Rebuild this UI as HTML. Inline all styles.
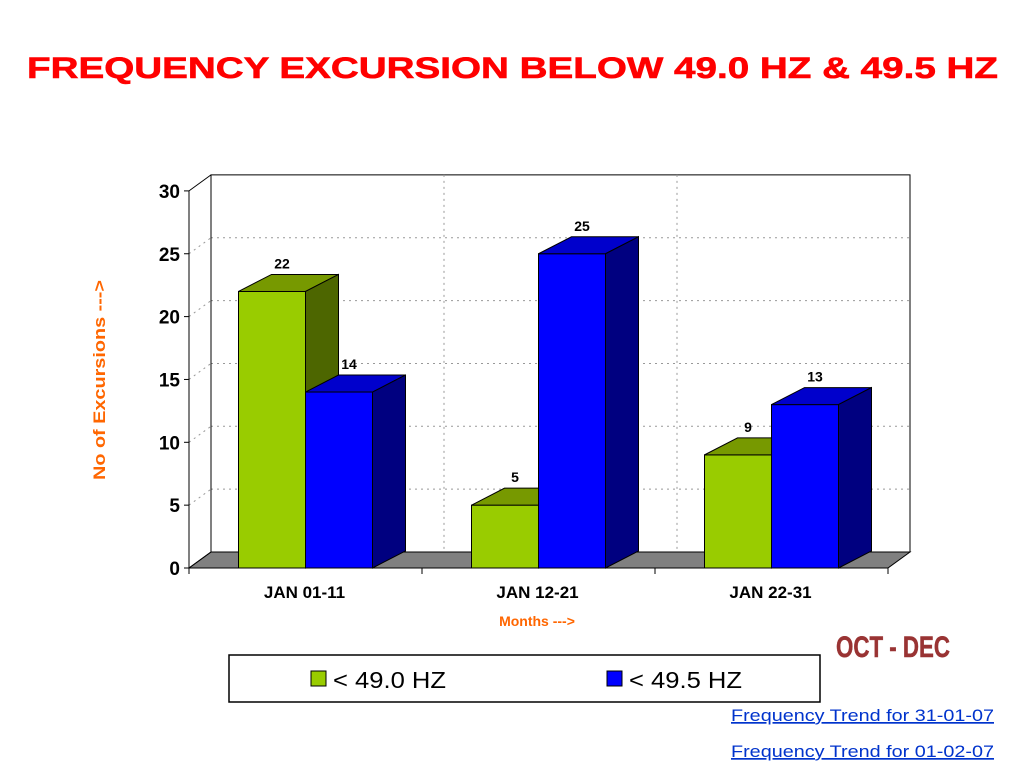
<!DOCTYPE html>
<html><head><meta charset="utf-8"><style>
body{margin:0;background:#fff;width:1024px;height:768px;overflow:hidden;font-family:"Liberation Sans",sans-serif;}
</style></head><body>
<svg width="1024" height="768" viewBox="0 0 1024 768" font-family="Liberation Sans, sans-serif">
<text x="27" y="78" textLength="971" lengthAdjust="spacingAndGlyphs" font-size="30" font-weight="bold" fill="#ff0000" stroke="#ff0000" stroke-width="0.6">FREQUENCY EXCURSION BELOW 49.0 HZ &amp; 49.5 HZ</text>
<g id="plot"></g>
<text transform="translate(105,380) rotate(-90)" text-anchor="middle" font-size="17" font-weight="bold" fill="#ff6600" textLength="200" lengthAdjust="spacingAndGlyphs">No of Excursions ---&gt;</text>
<text x="537" y="626" text-anchor="middle" font-size="14" font-weight="bold" fill="#ff6600">Months  ---&gt;</text>
<text x="836" y="657" textLength="114" lengthAdjust="spacingAndGlyphs" font-size="30" font-weight="bold" fill="#993333" stroke="#993333" stroke-width="0.5">OCT - DEC</text>
<g>
<rect x="229" y="655" width="591" height="47" fill="#fff" stroke="#000" stroke-width="1.5"/>
<rect x="311" y="671" width="15" height="15" fill="#99cc00" stroke="#000"/>
<text x="333" y="688" font-size="23" textLength="113" lengthAdjust="spacingAndGlyphs">&lt; 49.0 HZ</text>
<rect x="607" y="671" width="15" height="15" fill="#0000ff" stroke="#000"/>
<text x="629" y="688" font-size="23" textLength="113" lengthAdjust="spacingAndGlyphs">&lt; 49.5 HZ</text>
</g>
<a><text x="731" y="721" textLength="263" lengthAdjust="spacingAndGlyphs" font-size="17" fill="#0033cc" text-decoration="underline">Frequency Trend for 31-01-07</text></a>
<a><text x="731" y="757" textLength="263" lengthAdjust="spacingAndGlyphs" font-size="17" fill="#0033cc" text-decoration="underline">Frequency Trend for 01-02-07</text></a>
</svg>
<script>
const categories=["JAN 01-11","JAN 12-21","JAN 22-31"];
const series49_0=[22,5,9];
const series49_5=[14,25,13];
const yTicks=[0,5,10,15,20,25,30];
const NS="http://www.w3.org/2000/svg";
const g=document.getElementById('plot');
const X0=189,X1=888,Y0=568,YMAX=30,PPU=12.57,DX=22,DY=-16;
const y=v=>Y0-v*PPU;
const catW=(X1-X0)/categories.length;
const cx=i=>X0+catW*(i+0.5);
function el(t,a,p){const e=document.createElementNS(NS,t);for(const k in a)e.setAttribute(k,a[k]);(p||g).appendChild(e);return e;}
let w=el('polygon',{points:`${X0+DX},${y(0)+DY} ${X0+DX},${y(YMAX)+DY} ${X1+DX},${y(YMAX)+DY} ${X1+DX},${y(0)+DY}`,fill:'#fff',stroke:'#000','stroke-width':1});


let f=el('polygon',{points:`${X0},${Y0} ${X0+DX},${Y0+DY} ${X1+DX},${Y0+DY} ${X1},${Y0}`,fill:'#808080',stroke:'#000'});


yTicks.forEach(v=>{
  if(v>0&&v<YMAX){
    let l=el('line',{x1:X0+DX,x2:X1+DX,y1:y(v)+DY,y2:y(v)+DY,stroke:'#999','stroke-dasharray':'2,4'});
    
    
  }
  el('line',{x1:X0,x2:X0+DX,y1:y(v),y2:y(v)+DY,stroke:v==0||v==YMAX?'#000':'#999','stroke-dasharray':v==0||v==YMAX?'':'2,4'});
  el('line',{x1:X0-5,x2:X0,y1:y(v),y2:y(v),stroke:'#000'});
  let t=el('text',{x:X0-9,y:y(v)+7,'text-anchor':'end','font-size':19,'font-weight':'bold'});
  t.textContent=v;
  
  
});
for(let i=1;i<categories.length;i++){
  let x=X0+catW*i+DX;
  el('line',{x1:x,x2:x,y1:y(YMAX)+DY,y2:Y0+DY,stroke:'#999','stroke-dasharray':'2,4'});
}
el('line',{x1:X0,x2:X0,y1:Y0,y2:y(YMAX),stroke:'#000'});
el('line',{x1:X0+DX,x2:X0+DX,y1:Y0+DY,y2:y(YMAX)+DY,stroke:'#000'});
el('line',{x1:X0,x2:X1,y1:Y0,y2:Y0,stroke:'#000'});
for(let i=0;i<=categories.length;i++){let x=X0+catW*i;el('line',{x1:x,x2:x,y1:Y0,y2:Y0+6,stroke:'#000'});}
const BW=67,BDX=33,BDY=-17;
function bar(x,v,front,top,side,name){
  const gg=el('g',{});
  
  
  const t=y(v);
  el('rect',{x:x,y:t,width:BW,height:Y0-t,fill:front,stroke:'#000'},gg);
  el('polygon',{points:`${x},${t} ${x+BDX},${t+BDY} ${x+BW+BDX},${t+BDY} ${x+BW},${t}`,fill:top,stroke:'#000'},gg);
  el('polygon',{points:`${x+BW},${t} ${x+BW+BDX},${t+BDY} ${x+BW+BDX},${Y0+BDY} ${x+BW},${Y0}`,fill:side,stroke:'#000'},gg);
  const l=el('text',{x:x+BW/2+10,y:t+BDY-6,'text-anchor':'middle','font-size':14,'font-weight':'bold'},gg);
  l.textContent=v;
}
categories.forEach((c,i)=>{
  const x=cx(i)-BW;
  bar(x,series49_0[i],'#99cc00','#779900','#4d6600','bar-49-0-'+i);
  bar(x+BW,series49_5[i],'#0000ff','#0000cc','#000080','bar-49-5-'+i);
  const t=el('text',{x:cx(i)-1,y:598,'text-anchor':'middle','font-size':17,'font-weight':'bold'});
  t.textContent=c;
  
  
});
</script>
</body></html>
